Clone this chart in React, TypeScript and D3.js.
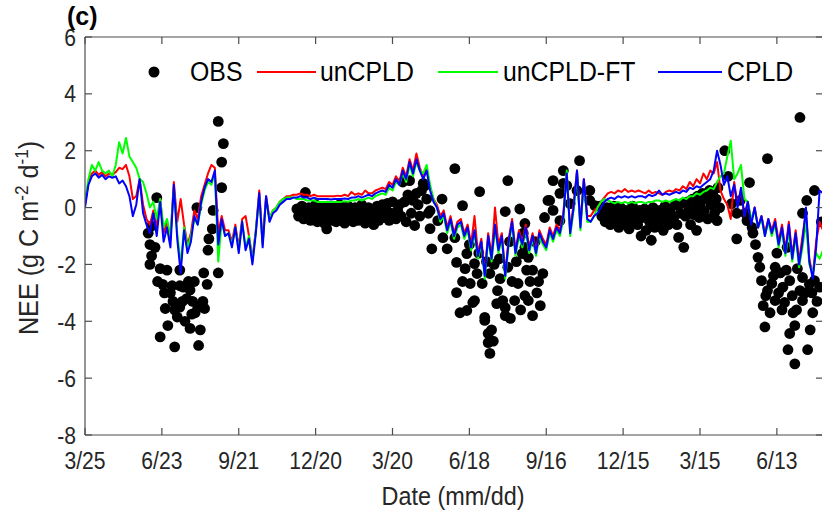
import * as d3 from "d3";

// x axis: days since 3/25 (first year); ticks every 90 days
const tickDays = [0, 90, 180, 270, 360, 450, 540, 630, 720, 810];
const tickLabels = ["3/25", "6/23", "9/21", "12/20", "3/20", "6/18", "9/16", "12/15", "3/15", "6/13"];
const yTicks = [-8, -6, -4, -2, 0, 2, 4, 6];

// model series, one value every 4 days starting at day 0
const STEP = 4;
const unCPLD = [
  0.1, 0.9, 1.2, 1.3, 1.15, 1.25, 1.1, 1.2, 1.15, 1.25, 1.4, 1.35, 1.5, 1.1, 0.3, 0.4, 1.0, 0.1, -0.4, -0.6,
  -0.1, -0.7, 0.3, -0.9, -0.5, -1.1, 0.9, -0.5, 0.3, -0.6, -1.3, -0.9, -0.1, -0.4, 0.4, 0.8, 1.2, 1.5, 1.4, -0.9,
  -0.3, -0.8, -0.8, -1.2, -0.6, -1.4, -0.4, -0.3, -1.0, -1.8, -0.8, 0.6, -1.2, 0.4, -0.4, -0.1, 0.0, 0.2, 0.3, 0.4,
  0.4, 0.45, 0.45, 0.5, 0.45, 0.45, 0.4, 0.45, 0.4, 0.4, 0.4, 0.4, 0.4, 0.4, 0.42, 0.4, 0.45, 0.4, 0.55, 0.45,
  0.5, 0.45, 0.6, 0.5, 0.5, 0.6, 0.65, 0.7, 0.65, 0.9, 0.8, 1.1, 0.9, 1.4, 1.1, 1.7, 1.3, 1.9, 1.4, 1.1,
  1.4, 0.7, 0.3, 0.1, -0.3, -0.1, -0.7, -0.3, -0.9, -0.5, -0.4, -0.9, -0.6, -1.3, -0.3, -1.6, -1.1, -2.3, -0.9, -1.7,
  0.0, -1.3, -0.9, -2.3, -1.1, -0.4, -1.5, -0.8, -1.2, -0.6, -1.4, -0.9, -1.5, -0.8, -1.1, -1.3, -0.7, -1.0, -0.6, -0.8,
  -0.2, 1.2, -0.8, 0.1, 1.3, -0.6, 1.0, -0.3, -0.3, -0.1, 0.0, 0.2, 0.35, 0.5, 0.55, 0.5, 0.6, 0.55, 0.65, 0.55,
  0.6, 0.55, 0.6, 0.55, 0.5, 0.6, 0.5, 0.55, 0.5, 0.45, 0.55, 0.6, 0.55, 0.65, 0.6, 0.75, 0.65, 0.9, 0.75, 1.0,
  0.85, 1.2, 1.0, 1.3, 1.2, 1.6, 0.6, 0.3, 0.1, -0.4, 0.9, 0.1, 0.6, -0.3, 0.2, -0.5, 0.0, -0.7, -0.3, -0.9,
  -0.4, -0.8, -0.4, -1.2, -0.6, -1.5, -0.5, -1.7, -0.8, -1.9, -1.0, -0.2, -1.8, -2.4, -1.2, -0.5, -0.8,
];
const unCPLDFT = [
  0.2, 1.0, 1.5, 1.3, 1.6, 1.3, 1.2, 1.3, 1.1, 1.5, 2.3, 1.9, 2.45, 1.8, 1.6, 1.4, 1.0, 0.9, 0.5, 0.0,
  0.2, -0.4, 0.3, -0.7, -0.4, -1.0, 0.7, -0.9, -2.0, -0.7, -1.4, -1.0, -0.4, -0.6, 0.1, 0.6, 0.9, 0.8, 1.2, -1.9,
  -0.5, -1.0, -0.9, -1.3, -0.7, -1.5, -0.5, -1.4, -1.0, -1.9, -0.8, 0.4, -1.3, 0.3, -0.4, -0.1, 0.0, 0.2, 0.3, 0.35,
  0.35, 0.35, 0.3, 0.3, 0.3, 0.25, 0.25, 0.25, 0.2, 0.2, 0.2, 0.2, 0.2, 0.2, 0.2, 0.2, 0.22, 0.2, 0.25, 0.25,
  0.3, 0.25, 0.3, 0.35, 0.3, 0.4, 0.45, 0.5, 0.45, 0.7, 0.6, 0.9, 0.8, 1.2, 0.9, 1.5, 1.1, 1.6, 1.3, 1.2,
  1.5, 0.8, 0.3, 0.0, -0.5, -0.3, -0.9, -0.5, -1.1, -0.7, -0.6, -1.1, -0.8, -1.5, -0.9, -1.8, -1.3, -2.5, -1.1, -1.9,
  -0.7, -1.6, -1.1, -2.5, -1.3, -0.6, -1.7, -1.0, -1.4, -0.8, -1.6, -1.1, -1.7, -1.0, -1.3, -1.5, -0.9, -1.2, -0.8, -1.0,
  -0.4, 1.3, -1.0, -0.1, 1.2, -0.8, 0.9, -0.5, -0.5, -0.3, 0.0, 0.2, 0.3, 0.25, 0.2, 0.15, 0.2, 0.15, 0.2, 0.15,
  0.2, 0.15, 0.2, 0.2, 0.15, 0.2, 0.2, 0.25, 0.25, 0.2, 0.25, 0.2, 0.25, 0.3, 0.25, 0.35, 0.3, 0.4, 0.4, 0.5,
  0.45, 0.55, 0.6, 0.7, 0.65, 0.9, 1.1, 1.2, 1.8, 2.35, 1.0, 1.2, 1.5, 0.3, 0.2, -0.4, -0.1, -0.7, -0.4, -1.0,
  -0.5, -1.0, -0.6, -1.4, -0.8, -1.7, -0.8, -1.9, -1.0, -2.1, -1.4, -0.5, -2.0, -2.3, -1.6, -1.8, -1.5,
];
const CPLD = [
  0.0, 0.8, 1.1, 1.2, 1.05, 1.15, 1.0, 1.1, 1.05, 1.1, 0.85, 0.95, 0.75, 0.4, -0.3, 0.1, 1.0, -0.2, -0.6, -0.9,
  -0.2, -1.0, 0.2, -1.2, -0.7, -1.4, 0.8, -1.1, -2.3, -0.8, -1.6, -1.2, -0.3, -0.6, 0.2, 0.7, 1.0, 0.9, 1.3, -1.3,
  -0.4, -1.0, -0.9, -1.4, -0.7, -1.6, -0.5, -1.5, -1.1, -2.0, -0.9, 0.5, -1.4, 0.4, -0.5, -0.2, -0.1, 0.1, 0.2, 0.3,
  0.3, 0.35, 0.35, 0.4, 0.35, 0.35, 0.3, 0.35, 0.3, 0.3, 0.3, 0.3, 0.28, 0.3, 0.3, 0.3, 0.32, 0.3, 0.35, 0.35,
  0.4, 0.35, 0.4, 0.45, 0.4, 0.5, 0.55, 0.6, 0.55, 0.8, 0.7, 1.0, 0.8, 1.3, 1.0, 1.6, 1.2, 1.7, 1.3, 1.0,
  1.3, 0.6, 0.2, 0.0, -0.4, -0.2, -0.8, -0.4, -1.0, -0.6, -0.5, -1.0, -0.7, -1.4, -0.8, -1.7, -1.2, -2.4, -1.0, -1.8,
  -0.6, -1.5, -1.0, -2.4, -1.2, -0.5, -1.6, -0.9, -1.3, -0.7, -1.5, -1.0, -1.6, -0.9, -1.2, -1.4, -0.8, -1.1, -0.7, -0.9,
  -0.3, 1.2, -0.9, 0.0, 1.3, -0.7, 1.0, -0.4, -0.5, -0.3, -0.2, 0.0, 0.2, 0.3, 0.35, 0.3, 0.4, 0.35, 0.4, 0.35,
  0.4, 0.35, 0.4, 0.4, 0.35, 0.45, 0.4, 0.45, 0.6, 0.45, 0.5, 0.45, 0.5, 0.55, 0.5, 0.6, 0.55, 0.7, 0.65, 0.75,
  0.7, 0.8, 0.9, 1.0, 1.3, 2.0, 1.5, 0.8, 1.1, 0.4, 0.8, 0.0, 0.7, -0.3, 0.2, -0.6, 0.0, -0.7, -0.3, -1.0,
  -0.4, -0.9, -0.5, -1.3, -0.7, -1.6, -0.6, -1.8, -0.9, -2.0, -1.2, 0.0, -1.9, -2.5, -1.4, 0.6, 0.5,
];

// observed NEE: [day since 3/25, value]
const obs: [number, number][] = [
  // first growing season
  [74, -0.9], [76, -1.3], [76, -2.0], [78, -0.65], [78, -1.7], [84, 0.35], [85, -2.6], [88, -2.15], [88, -4.55],
  [91, -2.7], [94, -3.55], [96, -2.2], [97, -4.15], [100, -3.0], [102, -2.75], [103, -3.3], [105, -4.9], [105, -3.6],
  [108, -3.85], [111, -2.2], [111, -2.75], [111, -3.5], [115, -2.8], [117, -4.0], [119, -3.2], [121, -2.6], [123, -2.9],
  [123, -4.25], [125, -3.75], [126, -3.3], [129, -3.7], [131, 0.0], [132, -3.5], [133, -4.85], [135, -4.3], [138, -3.3],
  [139, -2.3], [140, -3.55], [143, -2.7], [144, -1.5], [145, -1.1], [149, -0.75], [150, -0.1], [156, -2.3], [156, 3.03],
  [160, 0.7], [160, 1.6], [162, 2.25], [82, -1.4], [93, -3.0], [114, -3.3], [128, -2.6],
  // first winter
  [248, -0.05], [250, -0.3], [252, -0.15], [254, 0.05], [256, -0.4], [258, 0.53], [260, -0.2], [262, 0.0], [264, -0.45],
  [266, -0.1], [268, -0.3], [270, 0.1], [272, -0.5], [274, -0.2], [276, 0.0], [278, -0.35], [280, -0.55], [282, -0.1],
  [283, -0.75], [284, 0.05], [286, -0.3], [288, -0.45], [290, -0.15], [292, 0.0], [294, -0.5], [296, -0.25], [298, 0.1],
  [300, -0.4], [302, -0.1], [304, -0.55], [306, -0.2], [308, 0.05], [310, -0.35], [312, -0.15], [314, -0.5], [316, 0.0],
  [318, -0.3], [320, -0.45], [322, -0.1], [324, 0.1], [326, -0.35], [328, -0.55], [330, -0.2], [332, 0.0], [334, -0.4],
  [336, -0.1], [338, -0.6], [340, -0.25], [342, 0.05], [344, -0.45], [346, -0.2], [348, 0.1], [350, -0.35], [352, -0.1],
  [354, 0.15], [356, -0.45], [358, -0.2], [360, 0.2], [362, -0.3], [364, -0.4], [366, -0.1], [368, 0.1], [370, -0.3],
  [372, 0.9], [374, 0.2], [376, -0.5], [378, 0.45], [380, 0.95], [382, -0.2], [384, 0.25], [386, -0.63], [388, 0.5],
  [390, 0.1], [392, -0.3], [394, 0.6], [396, 0.85], [398, 0.77], [400, 0.3], [402, -0.2], [404, -0.11], [404, -0.74],
  // second growing season
  [406, -1.45], [413, -0.46], [418, 0.3], [419, -1.06], [424, -1.45], [433, 1.37], [433, -1.06], [435, -1.93],
  [435, -2.99], [439, -3.7], [442, 0.07], [442, -2.6], [445, -2.15], [447, -1.62], [447, -3.62], [451, -2.67],
  [454, -3.34], [456, -1.97], [456, -3.27], [459, -2.32], [462, 0.56], [465, -2.67], [468, -3.86], [468, -3.97],
  [472, -4.43], [472, -4.75], [474, -2.32], [474, -5.13], [476, -4.3], [478, -4.7], [482, -3.38], [483, -2.92],
  [489, -3.27], [492, -3.52], [492, -0.14], [492, -3.8], [495, 0.95], [503, -3.27], [507, -2.67], [509, -0.05],
  [512, -1.62], [513, -0.9], [515, -0.56], [515, -1.4], [515, -3.1], [517, -2.2], [519, -1.75], [519, -3.27],
  [524, -2.2], [524, -3.8], [529, -3.0], [533, -3.45], [536, -2.32], [538, -0.35], [542, 0.25], [544, 0.25],
  [548, 0.95], [548, -0.1], [556, 0.5], [556, -0.46], [560, 1.3], [560, 0.85], [564, 0.77], [568, 0.14],
  [576, 0.6], [579, 1.65], [591, 0.6], [591, 0.25], [597, 0.07],
  [479, -2.0], [485, -1.8], [486, -2.5], [495, -2.1], [497, -1.2], [498, -3.9], [500, -2.6], [505, -1.9],
  [510, -3.6], [521, -2.6], [527, -1.2], [531, -2.6], [450, -1.3], [461, -1.6], [470, -1.9],
  // second winter
  [603, 0.05], [605, -0.3], [607, -0.1], [609, -0.5], [611, 0.0], [613, -0.35], [615, -0.6], [617, -0.15], [619, 0.05],
  [621, -0.45], [623, -0.2], [625, -0.7], [627, 0.0], [629, -0.35], [631, -0.55], [633, -0.1], [635, -0.4], [637, -0.75],
  [639, -0.2], [641, 0.05], [643, -0.5], [645, -0.3], [647, -0.6], [649, -0.1], [651, -1.0], [653, -0.35], [655, -0.05],
  [657, -0.8], [659, -0.25], [661, -0.5], [663, -1.15], [665, 0.0], [667, -0.7], [669, -0.3], [671, -0.55], [673, -0.1],
  [675, -0.4], [677, -0.8], [679, 0.05], [681, -0.3], [683, -0.6], [685, -0.15], [687, -0.5], [689, -0.4], [691, 0.1],
  [693, -0.6], [695, -1.05], [697, -0.2], [699, 0.15], [701, -1.4], [703, -0.3], [705, 0.2], [707, -0.1], [709, -0.6],
  [711, 0.3], [713, -0.25], [715, 0.0], [716, -0.8], [717, 0.4], [719, -0.35], [721, 0.2], [723, 0.5], [725, -0.1],
  [727, 0.35], [729, -0.4], [731, 0.6], [733, 0.1], [735, 0.45], [737, -0.2], [739, 0.3], [740, -0.46], [741, 0.7],
  [743, 0.0],
  // third growing season
  [749, 2.0], [753, 1.1], [757, 0.14], [763, -1.1], [763, -0.2], [767, 0.25], [773, -0.2], [775, -0.46], [778, 0.88],
  [781, -0.7], [782, -0.9], [788, -1.75], [790, -2.1], [792, -2.57], [794, -3.45], [796, -4.2], [799, 1.72],
  [799, -2.92], [802, -3.7], [804, -2.67], [808, -2.1], [808, -3.27], [810, -1.6], [814, -2.3], [817, -2.8],
  [819, -3.34], [822, -1.4], [823, -5.0], [825, -4.43], [825, -2.57], [829, -3.7], [831, -4.15], [831, -5.5],
  [834, -2.15], [837, 3.17], [837, -2.92], [840, -0.2], [840, -2.46], [840, -3.27], [845, 0.25], [846, -5.0],
  [849, -4.3], [851, -3.0], [852, -3.7], [854, 0.6], [854, -2.57],
  [785, -1.3], [797, -3.1], [806, -2.4], [812, -3.0], [816, -3.6], [821, -2.2], [828, -3.1], [833, -3.6],
  [843, -3.0], [848, -2.7], [857, -3.3], [860, -2.8], [862, -0.5],
];

const series = [
  { name: "unCPLD", values: unCPLD, color: "#ff0000" },
  { name: "unCPLD-FT", values: unCPLDFT, color: "#00ff00" },
  { name: "CPLD", values: CPLD, color: "#0000ff" },
];

const W = 822;
const H = 516;
const m = { left: 85, top: 37, right: 823, bottom: 435 };
const FONT = "'Liberation Sans', Arial, sans-serif";
const AX = "#4d4d4d";
const INK = "#262626";

// MATLAB export looks slightly condensed horizontally
function Txt({ x, y, size, sx = 0.88, anchor = "start", weight, fill = INK, children }: any) {
  return (
    <text
      transform={`translate(${x},${y}) scale(${sx},1)`}
      fontSize={size}
      textAnchor={anchor}
      fontWeight={weight}
      fill={fill}
    >
      {children}
    </text>
  );
}

export default function App() {
  const x = d3.scaleLinear().domain([0, 864]).range([m.left, m.right]);
  const y = d3.scaleLinear().domain([-8, 6]).range([m.bottom, m.top]);
  const line = d3
    .line<number>()
    .x((_, i) => x(i * STEP))
    .y((d) => y(d));

  const tickLen = 7;
  const legend = [
    { label: "unCPLD", color: "#ff0000", x1: 257, x2: 316, tx: 320 },
    { label: "unCPLD-FT", color: "#00ff00", x1: 438, x2: 498, tx: 503 },
    { label: "CPLD", color: "#0000ff", x1: 658, x2: 722, tx: 727 },
  ];

  return (
    <svg
      width={W}
      height={H}
      style={{ position: "absolute", left: 0, top: 0, background: "#fff" }}
      fontFamily={FONT}
    >
      <defs>
        <clipPath id="plot">
          <rect x={m.left} y={m.top} width={m.right - m.left} height={m.bottom - m.top} />
        </clipPath>
      </defs>

      <g clipPath="url(#plot)">
        {obs.map(([d, v], i) => (
          <circle key={i} cx={x(d)} cy={y(v)} r={5.4} fill="#000" />
        ))}
        {series.map((s) => (
          <path key={s.name} d={line(s.values) ?? ""} fill="none" stroke={s.color} strokeWidth={2} strokeLinejoin="round" />
        ))}
      </g>

      {/* axes box */}
      <g stroke={AX} strokeWidth={1.2} fill="none">
        <line x1={m.left} x2={m.left} y1={m.top} y2={m.bottom} />
        <line x1={m.left} x2={m.right} y1={m.bottom} y2={m.bottom} />
        <line x1={m.left} x2={m.right} y1={m.top} y2={m.top} />
        <line x1={m.right} x2={m.right} y1={m.top} y2={m.bottom} />
        {tickDays.map((d) => (
          <g key={d}>
            <line x1={x(d)} x2={x(d)} y1={m.bottom} y2={m.bottom - tickLen} />
            <line x1={x(d)} x2={x(d)} y1={m.top} y2={m.top + tickLen} />
          </g>
        ))}
        {yTicks.map((t) => (
          <g key={t}>
            <line x1={m.left} x2={m.left + tickLen} y1={y(t)} y2={y(t)} />
            <line x1={m.right} x2={m.right - tickLen} y1={y(t)} y2={y(t)} />
          </g>
        ))}
      </g>

      {/* tick labels */}
      {tickDays.map((d, i) => (
        <Txt key={d} x={x(d)} y={m.bottom + 34} size={24} anchor="middle">
          {tickLabels[i]}
        </Txt>
      ))}
      {yTicks.map((t) => (
        <Txt key={t} x={m.left - 9} y={y(t) + 8.5} size={24} anchor="end">
          {t}
        </Txt>
      ))}

      {/* axis titles */}
      <Txt x={453} y={505} size={26} sx={0.9} anchor="middle">
        Date (mm/dd)
      </Txt>
      <text transform="translate(38,238) rotate(-90) scale(0.9,1)" textAnchor="middle" fontSize={28} fill={INK}>
        NEE (g C m
        <tspan dy={-10} fontSize={19}>-2</tspan>
        <tspan dy={10}> d</tspan>
        <tspan dy={-10} fontSize={19}>-1</tspan>
        <tspan dy={10}>)</tspan>
      </text>
      <Txt x={67} y={24.5} size={25} sx={1} weight="bold" fill="#000">
        (c)
      </Txt>

      {/* legend */}
      <circle cx={154} cy={72} r={5.5} fill="#000" />
      <Txt x={190} y={81} size={27} sx={0.92} fill="#000">
        OBS
      </Txt>
      {legend.map((l) => (
        <g key={l.label}>
          <line x1={l.x1} x2={l.x2} y1={72} y2={72} stroke={l.color} strokeWidth={2} />
          <Txt x={l.tx} y={81} size={27} sx={0.92} fill="#000">
            {l.label}
          </Txt>
        </g>
      ))}
    </svg>
  );
}
